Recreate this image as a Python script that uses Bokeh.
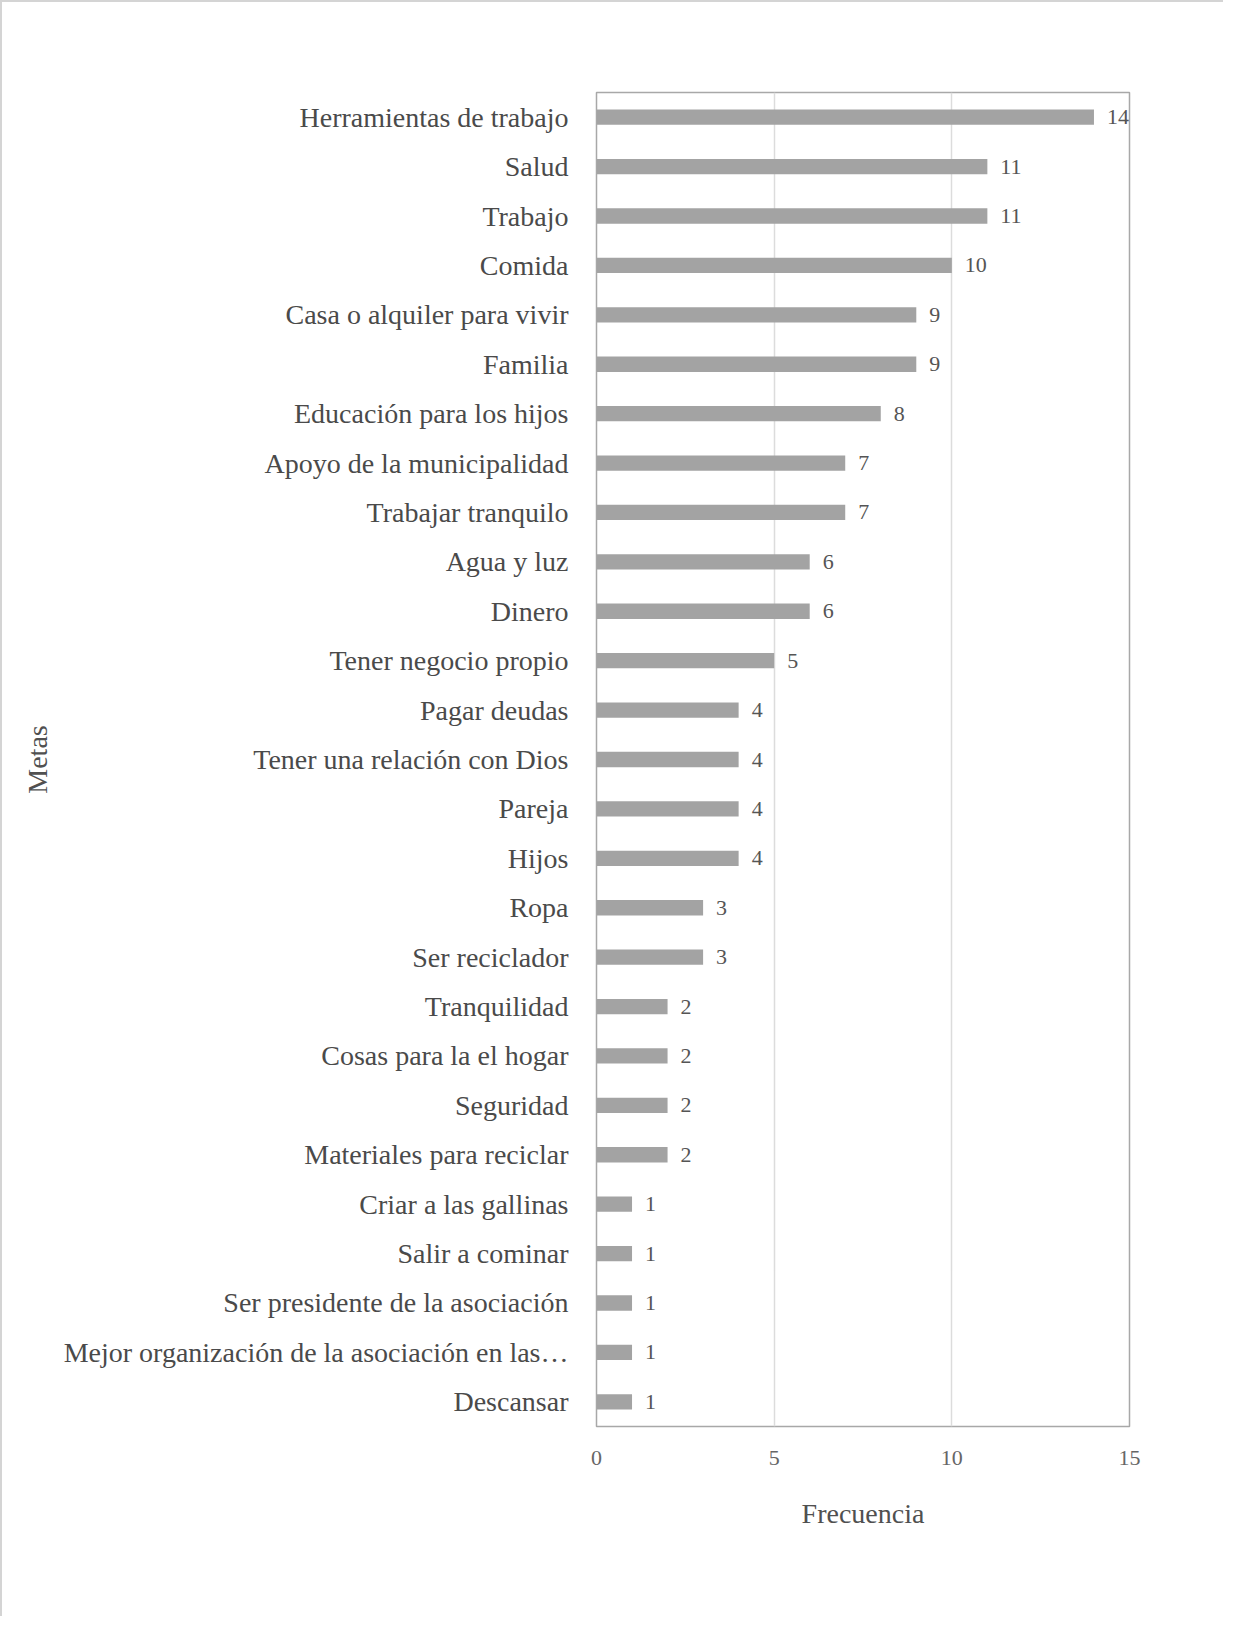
from bokeh.plotting import figure
from bokeh.models import ColumnDataSource, FactorRange, Range1d, FixedTicker
from bokeh.core.properties import value
from bokeh.embed import file_html
from bokeh.resources import INLINE

categories = [
    "Herramientas de trabajo", "Salud", "Trabajo", "Comida",
    "Casa o alquiler para vivir", "Familia", "Educación para los hijos",
    "Apoyo de la municipalidad", "Trabajar tranquilo", "Agua y luz", "Dinero",
    "Tener negocio propio", "Pagar deudas", "Tener una relación con Dios",
    "Pareja", "Hijos", "Ropa", "Ser reciclador", "Tranquilidad",
    "Cosas para la el hogar", "Seguridad", "Materiales para reciclar",
    "Criar a las gallinas", "Salir a cominar", "Ser presidente de la asociación",
    "Mejor organización de la asociación en las…", "Descansar",
]
frecuencia = [14, 11, 11, 10, 9, 9, 8, 7, 7, 6, 6, 5, 4, 4, 4, 4, 3, 3, 2, 2, 2, 2, 1, 1, 1, 1, 1]
x_ticks = [0, 5, 10, 15]

SERIF = "Liberation Serif"

src = ColumnDataSource(dict(cat=categories, val=frecuencia, lab=[str(v) for v in frecuencia]))

p = figure(
    y_range=FactorRange(factors=list(reversed(categories)), range_padding=0),
    x_range=Range1d(0, 15),
    frame_width=533, frame_height=1334,
    min_border_left=594, min_border_right=94, min_border_top=90, min_border_bottom=190,
    output_backend="svg", toolbar_location=None,
)
p.styles = {"border-top": "2px solid #d4d4d4", "border-left": "2px solid #d4d4d4"}

p.hbar(y="cat", right="val", left=0, height=0.31, source=src,
       fill_color="#a3a3a3", line_color=None)
p.text(x="val", y="cat", text="lab", source=src, x_offset=13,
       text_baseline="middle", text_align="left", text_font=value(SERIF),
       text_font_size="22px", text_color="#555555")

p.outline_line_color = "#a8a8a8"
p.outline_line_width = 1.5
p.background_fill_color = "white"
p.border_fill_color = "white"

p.xgrid.ticker = FixedTicker(ticks=x_ticks)
p.xgrid.grid_line_color = "#dcdcdc"
p.xgrid.grid_line_width = 1.5
p.ygrid.grid_line_color = None

p.xaxis.ticker = FixedTicker(ticks=x_ticks)
p.xaxis.axis_line_color = None
p.xaxis.major_tick_line_color = None
p.xaxis.minor_tick_line_color = None
p.xaxis.major_label_text_font = SERIF
p.xaxis.major_label_text_font_size = "22px"
p.xaxis.major_label_text_color = "#666666"
p.xaxis.major_label_standoff = 18
p.xaxis.axis_label = "Frecuencia"
p.xaxis.axis_label_text_font = SERIF
p.xaxis.axis_label_text_font_size = "28px"
p.xaxis.axis_label_text_font_style = "normal"
p.xaxis.axis_label_text_color = "#505050"
p.xaxis.axis_label_standoff = 30

p.yaxis.axis_line_color = None
p.yaxis.major_tick_line_color = None
p.yaxis.minor_tick_line_color = None
p.yaxis.major_label_text_font = SERIF
p.yaxis.major_label_text_font_size = "28px"
p.yaxis.major_label_text_color = "#4a4a4a"
p.yaxis.major_label_standoff = 22
p.yaxis.axis_label = "Metas"
p.yaxis.axis_label_text_font = SERIF
p.yaxis.axis_label_text_font_size = "28px"
p.yaxis.axis_label_text_font_style = "normal"
p.yaxis.axis_label_text_color = "#505050"
p.yaxis.axis_label_standoff = 8

open("out.html", "w").write(file_html(p, INLINE))
